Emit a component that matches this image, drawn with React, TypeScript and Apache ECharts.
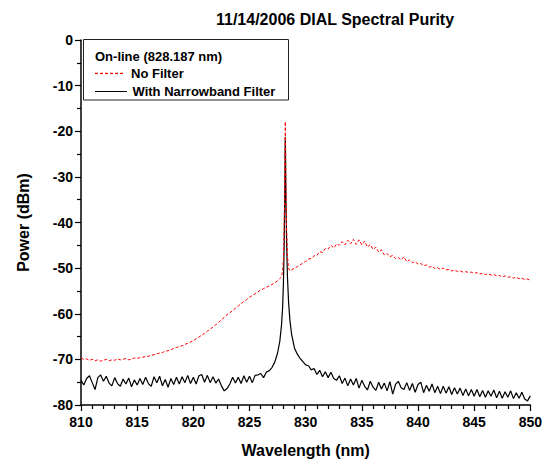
import React, { useEffect, useRef } from "react";
import * as echarts from "echarts";

const TITLE = "11/14/2006 DIAL Spectral Purity";
const X_NAME = "Wavelength (nm)";
const Y_NAME = "Power (dBm)";
const LEGEND_HEAD = "On-line (828.187 nm)";
const SERIES_NAMES = ["No Filter", "With Narrowband Filter"];

// wavelength samples (nm)
const wavelength = [
  810, 810.25, 810.5, 810.75, 811, 811.25, 811.5, 811.75,
  812, 812.25, 812.5, 812.75, 813, 813.25, 813.5, 813.75,
  814, 814.25, 814.5, 814.75, 815, 815.25, 815.5, 815.75,
  816, 816.25, 816.5, 816.75, 817, 817.25, 817.5, 817.75,
  818, 818.25, 818.5, 818.75, 819, 819.25, 819.5, 819.75,
  820, 820.25, 820.5, 820.75, 821, 821.25, 821.5, 821.75,
  822, 822.25, 822.5, 822.75, 823, 823.25, 823.5, 823.75,
  824, 824.25, 824.5, 824.75, 825, 825.25, 825.5, 825.75,
  826, 826.25, 826.5,
  826.75, 827, 827.25, 827.5, 827.7, 827.85, 827.95, 828.02, 828.08, 828.12, 828.15, 828.17, 828.187,
  828.2, 828.22, 828.25, 828.3, 828.38, 828.48, 828.6, 828.75, 829, 829.25, 829.5, 829.75, 830,
  830.25, 830.5, 830.75,
  831, 831.25, 831.5, 831.75, 832, 832.25, 832.5, 832.75,
  833, 833.25, 833.5, 833.75, 834, 834.25, 834.5, 834.75,
  835, 835.25, 835.5, 835.75, 836, 836.25, 836.5, 836.75,
  837, 837.25, 837.5, 837.75, 838, 838.25, 838.5, 838.75,
  839, 839.25, 839.5, 839.75, 840, 840.25, 840.5, 840.75,
  841, 841.25, 841.5, 841.75, 842, 842.25, 842.5, 842.75,
  843, 843.25, 843.5, 843.75, 844, 844.25, 844.5, 844.75,
  845, 845.25, 845.5, 845.75, 846, 846.25, 846.5, 846.75,
  847, 847.25, 847.5, 847.75, 848, 848.25, 848.5, 848.75,
  849, 849.25, 849.5, 849.75, 850,
];

// No Filter (dBm)
const noFilter = [
  -69.7, -70.0, -69.9, -70.2, -70.0, -70.3, -70.1, -70.4,
  -70.2, -70.0, -70.3, -70.1, -70.2, -69.9, -70.1, -70.0,
  -69.8, -70.1, -69.9, -69.7, -69.8, -69.6, -69.5, -69.4,
  -69.3, -69.1, -69.0, -68.8, -68.6, -68.5, -68.2, -68.1,
  -67.9, -67.6, -67.4, -67.2, -67.0, -66.7, -66.5, -66.2,
  -65.9, -65.5, -65.1, -64.7, -64.3, -63.8, -63.4, -62.9,
  -62.4, -61.9, -61.3, -60.8, -60.2, -59.8, -59.3, -58.8,
  -58.3, -57.8, -57.3, -56.9, -56.4, -56.0, -55.6, -55.2,
  -54.8, -54.5, -54.2,
  -53.9, -53.6, -53.2, -52.8, -52.3, -51.9, -50.5, -48, -42, -35, -28, -22, -17.9,
  -20, -26, -33, -41, -47.5, -50.0, -50.6, -50.4, -50.0, -49.7, -49.3, -48.9, -48.5,
  -48.0, -47.9, -47.3,
  -47.2, -46.4, -46.6, -45.7, -45.8, -45.0, -45.6, -44.7,
  -45.0, -44.2, -44.9, -43.9, -44.7, -43.7, -44.8, -43.8,
  -44.9, -44.1, -45.4, -44.8, -45.9, -45.4, -46.5, -46.0,
  -47.1, -46.8, -47.5, -47.2, -47.9, -47.7, -48.2, -47.5,
  -48.6, -48.2, -48.8, -48.6, -49.1, -49.0, -49.5, -49.3,
  -49.8, -49.6, -50.1, -49.9, -50.3, -50.0, -50.4, -50.3,
  -50.6, -50.5, -50.7, -50.6, -50.9, -50.8, -50.9, -50.9,
  -51.1, -51.0, -51.3, -51.1, -51.4, -51.3, -51.5, -51.4,
  -51.7, -51.6, -51.9, -51.7, -52.0, -51.9, -52.2, -52.0,
  -52.3, -52.2, -52.5, -52.4, -52.7,
];

// With Narrowband Filter (dBm)
const withFilter = [
  -74.6, -75.6, -74.2, -73.6, -75.1, -76.6, -74.0, -73.4,
  -74.8, -73.7, -75.2, -75.8, -74.0, -75.3, -75.9, -74.3,
  -75.4, -74.1, -76.0, -74.5, -75.6, -74.2, -75.5, -73.9,
  -75.3, -75.9, -73.8, -75.1, -73.7, -75.8, -74.4, -76.1,
  -74.2, -75.5, -73.9, -75.4, -73.8, -75.1, -73.5, -75.3,
  -73.9, -75.4, -73.6, -73.3, -75.0, -73.5, -75.1, -73.8,
  -75.2, -74.3, -75.8, -76.9, -76.4, -75.4, -73.9, -75.2,
  -73.9, -75.3, -73.6, -75.0, -73.7, -75.1, -73.5, -73.4,
  -73.1, -74.0, -72.8,
  -72.5, -71.8, -70.6, -68.6, -66.0, -62.5, -58.5, -53.5, -46, -38, -31, -25, -21.2,
  -23, -29, -36, -44, -52, -57.5, -61.5, -64.5, -67.5, -68.8, -69.8, -70.5, -71.2,
  -71.4, -72.3, -72.0,
  -73.3, -72.4, -73.8, -72.7, -74.0, -72.8, -74.2, -74.6,
  -73.6, -75.3, -74.1, -75.8, -74.3, -75.6, -74.2, -76.3,
  -74.6, -75.9, -76.7, -74.8, -76.1, -76.8, -75.0, -76.5,
  -75.2, -76.9, -74.9, -77.6, -75.5, -74.8, -76.2, -76.6,
  -75.1, -76.8, -75.3, -77.2, -75.5, -75.0, -77.3, -75.7,
  -77.0, -75.4, -77.3, -75.9, -77.5, -75.9, -77.4, -76.0,
  -77.7, -76.2, -77.6, -76.3, -77.9, -76.5, -78.0, -76.6,
  -78.1, -76.6, -78.2, -76.8, -78.3, -76.9, -78.1, -76.7,
  -78.4, -77.0, -78.5, -77.1, -78.3, -76.9, -78.6, -77.3,
  -78.5, -77.2, -78.7, -79.1, -78.0,
];

const X_MIN = 810, X_MAX = 850, X_STEP = 5;
const Y_MIN = -80, Y_MAX = 0, Y_STEP = 10;

const FONT = "'Liberation Sans', Arial, Helvetica, sans-serif";

export default function App() {
  const ref = useRef<HTMLDivElement>(null);
  useEffect(() => {
    document.body.style.margin = "0";
    const chart = echarts.init(ref.current!, null, { renderer: "svg" });
    const axisCommon = {
      axisLine: { show: true, onZero: false, lineStyle: { color: "#000", width: 1.5 } },
      axisTick: { show: true, inside: false, length: 6, lineStyle: { color: "#000", width: 1.2 } },
      minorTick: { show: true, length: 4, lineStyle: { color: "#000", width: 1.2 } },
      splitLine: { show: false },
      axisLabel: { color: "#000", fontWeight: "bold" as const, fontSize: 14, fontFamily: FONT },
      nameLocation: "middle" as const,
      nameTextStyle: { color: "#000", fontWeight: "bold" as const, fontSize: 16, fontFamily: FONT },
    };
    // legend sample: red dashed segment made of short red dashes
    const dashStarts = [95, 100, 105, 110, 115, 120];
    const legendDashes = dashStarts.map((x) => ({
      type: "rect",
      shape: { x, y: 72.8, width: 3, height: 1.3 },
      style: { fill: "#ff0000" },
      z: 101,
    }));
    chart.setOption({
      animation: false,
      backgroundColor: "#fff",
      title: {
        text: TITLE,
        left: 211,
        top: 6,
        textStyle: { color: "#000", fontWeight: "bold", fontSize: 16, fontFamily: FONT },
      },
      grid: { left: 81, right: 10.5, top: 40, bottom: 57 },
      xAxis: {
        type: "value",
        min: X_MIN,
        max: X_MAX,
        interval: X_STEP,
        name: X_NAME,
        nameGap: 37,
        ...axisCommon,
        minorTick: { ...axisCommon.minorTick, splitNumber: 5 },
        axisLabel: { ...axisCommon.axisLabel, margin: 10 },
      },
      yAxis: {
        type: "value",
        min: Y_MIN,
        max: Y_MAX,
        interval: Y_STEP,
        name: Y_NAME,
        nameGap: 50,
        ...axisCommon,
        minorTick: { ...axisCommon.minorTick, splitNumber: 2 },
        axisLabel: { ...axisCommon.axisLabel, margin: 8 },
      },
      series: [
        {
          name: SERIES_NAMES[1],
          type: "line",
          symbol: "none",
          showSymbol: false,
          data: wavelength.map((w, i) => [w, withFilter[i]]),
          lineStyle: { color: "#000", width: 1.2 },
          itemStyle: { color: "#000" },
        },
        {
          name: SERIES_NAMES[0],
          type: "line",
          symbol: "none",
          showSymbol: false,
          data: wavelength.map((w, i) => [w, noFilter[i]]),
          lineStyle: { color: "#ff0000", width: 1, type: [3, 2] },
          itemStyle: { color: "#ff0000" },
        },
      ],
      graphic: [
        {
          type: "rect",
          shape: { x: 83.5, y: 39.5, width: 205, height: 60.5 },
          style: { fill: "#fff", stroke: "#222", lineWidth: 1 },
          z: 100,
        },
        {
          type: "text",
          x: 95,
          y: 56,
          style: { text: LEGEND_HEAD, font: `bold 13px ${FONT}`, fill: "#000", textVerticalAlign: "middle", verticalAlign: "middle" },
          z: 101,
        },
        ...legendDashes,
        {
          type: "text",
          x: 131,
          y: 73.5,
          style: { text: SERIES_NAMES[0], font: `bold 13px ${FONT}`, fill: "#000", textVerticalAlign: "middle", verticalAlign: "middle" },
          z: 101,
        },
        {
          type: "rect",
          shape: { x: 95, y: 91, width: 32, height: 1 },
          style: { fill: "#000" },
          z: 101,
        },
        {
          type: "text",
          x: 132.5,
          y: 91.5,
          style: { text: SERIES_NAMES[1], font: `bold 13px ${FONT}`, fill: "#000", textVerticalAlign: "middle", verticalAlign: "middle" },
          z: 101,
        },
      ],
    });
    return () => chart.dispose();
  }, []);
  return <div ref={ref} style={{ width: 545, height: 463 }} />;
}
